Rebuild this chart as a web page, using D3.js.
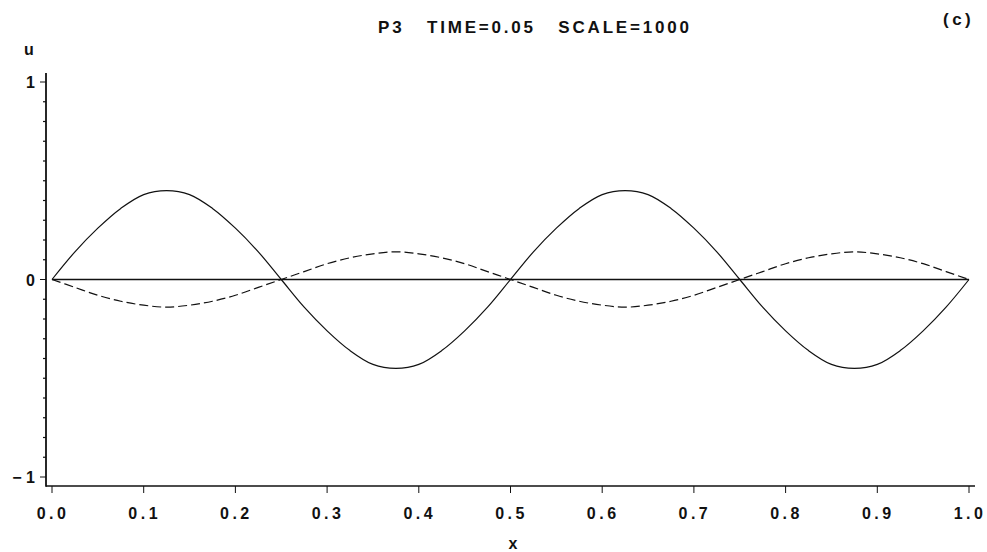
<!DOCTYPE html>
<html>
<head>
<meta charset="utf-8">
<script src="https://cdn.jsdelivr.net/npm/d3@7"></script>
<style>
  html, body { margin: 0; padding: 0; background: #fff; }
  svg { display: block; }
  text { font-family: "Liberation Sans", Arial, sans-serif; fill: #111; font-weight: bold; }
</style>
</head>
<body>
<svg id="chart" width="987" height="552"></svg>
<script>
// Sample positions along x
const xValues = [0, 0.025, 0.05, 0.075, 0.1, 0.125, 0.15, 0.175, 0.2, 0.225,
  0.25, 0.275, 0.3, 0.325, 0.35, 0.375, 0.4, 0.425, 0.45, 0.475,
  0.5, 0.525, 0.55, 0.575, 0.6, 0.625, 0.65, 0.675, 0.7, 0.725,
  0.75, 0.775, 0.8, 0.825, 0.85, 0.875, 0.9, 0.925, 0.95, 0.975, 1.0];

// Solid curve
const solidU = [0, 0.14, 0.26, 0.36, 0.43, 0.45, 0.43, 0.36, 0.26, 0.14,
  0, -0.14, -0.26, -0.36, -0.43, -0.45, -0.43, -0.36, -0.26, -0.14,
  0, 0.14, 0.26, 0.36, 0.43, 0.45, 0.43, 0.36, 0.26, 0.14,
  0, -0.14, -0.26, -0.36, -0.43, -0.45, -0.43, -0.36, -0.26, -0.14, 0];

// Dashed curve
const dashedU = [0, -0.04, -0.08, -0.11, -0.13, -0.14, -0.13, -0.11, -0.08, -0.04,
  0, 0.04, 0.08, 0.11, 0.13, 0.14, 0.13, 0.11, 0.08, 0.04,
  0, -0.04, -0.08, -0.11, -0.13, -0.14, -0.13, -0.11, -0.08, -0.04,
  0, 0.04, 0.08, 0.11, 0.13, 0.14, 0.13, 0.11, 0.08, 0.04, 0];

// Flat solid curve along u = 0
const flatU = [0, 0, 0, 0, 0, 0, 0, 0, 0, 0,
  0, 0, 0, 0, 0, 0, 0, 0, 0, 0,
  0, 0, 0, 0, 0, 0, 0, 0, 0, 0,
  0, 0, 0, 0, 0, 0, 0, 0, 0, 0, 0];

const xTicks = [0, 0.1, 0.2, 0.3, 0.4, 0.5, 0.6, 0.7, 0.8, 0.9, 1.0];
const xTickLabels = ["0.0", "0.1", "0.2", "0.3", "0.4", "0.5", "0.6", "0.7", "0.8", "0.9", "1.0"];
const yMajorTicks = [-1, 0, 1];
const yMajorLabels = ["\u2212 1", "0", "1"];
const yMinorTicks = [-0.9, -0.8, -0.7, -0.6, -0.5, -0.4, -0.3, -0.2, -0.1,
  0.1, 0.2, 0.3, 0.4, 0.5, 0.6, 0.7, 0.8, 0.9];

const titleText = "P3   TIME=0.05   SCALE=1000";
const panelText = "(c)";

const svg = d3.select("#chart");

const x = d3.scaleLinear().domain([0, 1]).range([52, 969]);
const y = d3.scaleLinear().domain([-1, 1]).range([477, 82]);

const axisLeftX = 46;
const axisBottomY = 486;
const ink = "#111";

// Axis frame lines
svg.append("line")
  .attr("x1", axisLeftX).attr("x2", axisLeftX)
  .attr("y1", 73).attr("y2", axisBottomY + 0.8)
  .attr("stroke", ink).attr("stroke-width", 1.8);
svg.append("line")
  .attr("x1", axisLeftX).attr("x2", 975)
  .attr("y1", axisBottomY).attr("y2", axisBottomY)
  .attr("stroke", ink).attr("stroke-width", 1.5);

// Y ticks
svg.selectAll(".ymajor").data(yMajorTicks).enter().append("line")
  .attr("x1", axisLeftX - 6).attr("x2", axisLeftX)
  .attr("y1", d => y(d)).attr("y2", d => y(d))
  .attr("stroke", ink).attr("stroke-width", 1);
svg.selectAll(".yminor").data(yMinorTicks).enter().append("line")
  .attr("x1", axisLeftX - 3).attr("x2", axisLeftX)
  .attr("y1", d => y(d)).attr("y2", d => y(d))
  .attr("stroke", ink).attr("stroke-width", 1.2);

svg.selectAll(".ylabel").data(yMajorTicks).enter().append("text")
  .attr("x", 35).attr("y", d => y(d) + 6)
  .attr("text-anchor", "end")
  .attr("font-size", 16)
  .style("white-space", "pre")
  .text((d, i) => yMajorLabels[i]);

// X ticks
svg.selectAll(".xtick").data(xTicks).enter().append("line")
  .attr("x1", d => x(d)).attr("x2", d => x(d))
  .attr("y1", axisBottomY).attr("y2", axisBottomY + 7)
  .attr("stroke", ink).attr("stroke-width", 1);

svg.selectAll(".xlabel").data(xTicks).enter().append("text")
  .attr("x", d => x(d) + 1)
  .attr("y", 519)
  .attr("text-anchor", "middle")
  .attr("font-size", 16)
  .attr("letter-spacing", 3.5)
  .text((d, i) => xTickLabels[i]);

// Axis titles
svg.append("text").attr("x", 513).attr("y", 549)
  .attr("text-anchor", "middle").attr("font-size", 16).text("x");
svg.append("text").attr("x", 29).attr("y", 55)
  .attr("text-anchor", "middle").attr("font-size", 16).text("u");

// Title and panel label
svg.append("text").attr("x", 378).attr("y", 33)
  .attr("text-anchor", "start").attr("font-size", 17)
  .attr("letter-spacing", 2.8)
  .style("white-space", "pre")
  .text(titleText);
svg.append("text").attr("x", 943).attr("y", 25)
  .attr("text-anchor", "start").attr("font-size", 17)
  .attr("letter-spacing", 3.5)
  .text(panelText);

// Curves
const line = d3.line()
  .x(d => x(d[0]))
  .y(d => y(d[1]))
  .curve(d3.curveCatmullRom.alpha(0.5));

const pts = arr => xValues.map((xv, i) => [xv, arr[i]]);

svg.append("path").datum(pts(flatU))
  .attr("d", line).attr("fill", "none")
  .attr("stroke", ink).attr("stroke-width", 1.6);

svg.append("path").datum(pts(solidU))
  .attr("d", line).attr("fill", "none")
  .attr("stroke", ink).attr("stroke-width", 1.2);

svg.append("path").datum(pts(dashedU))
  .attr("d", line).attr("fill", "none")
  .attr("stroke", ink).attr("stroke-width", 1.2)
  .attr("stroke-dasharray", "9,4");
</script>
</body>
</html>
